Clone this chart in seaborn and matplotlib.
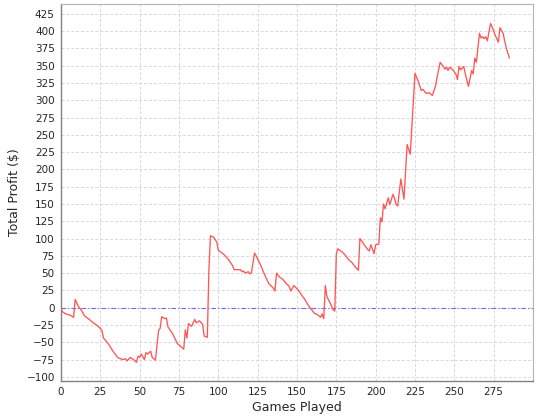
import matplotlib
matplotlib.use("Agg")
import matplotlib.pyplot as plt
import pandas as pd
import seaborn as sns

# Cumulative profit at each turning point.
games = [
    0, 1, 3, 6, 8, 9, 11, 13, 15, 18, 20, 23, 25, 26, 27, 30, 33, 36, 39, 41,
    42, 44, 46, 48, 49, 50, 51, 53, 54, 55, 57, 58, 60, 62, 63, 64, 66, 67, 68, 71,
    74, 77, 78, 79, 80, 81, 83, 85, 86, 88, 90, 91, 93, 94, 95, 97, 99, 100, 103, 106,
    109, 110, 114, 115, 116, 117, 119, 120, 121, 123, 124, 127, 129, 132, 135, 136, 137, 139, 141, 143,
    145, 146, 148, 151, 153, 155, 157, 159, 161, 163, 165, 166, 167, 168, 169, 171, 173, 174, 175, 176,
    179, 181, 183, 185, 187, 189, 190, 191, 193, 195, 196, 197, 199, 200, 202, 203, 204, 205, 206, 208,
    209, 211, 212, 213, 214, 216, 218, 220, 222, 225, 227, 229, 230, 232, 234, 236, 238, 239, 241, 243,
    244, 245, 246, 247, 249, 251, 252, 253, 254, 256, 257, 259, 261, 262, 263, 264, 266, 267, 268, 269,
    270, 271, 273, 274, 276, 278, 279, 281, 282, 283, 285,
]
profit = [
    -2, -6, -9, -11, -14, 12, 2, -4, -12, -17, -21, -26, -30, -33, -44, -52, -63, -72, -75, -74,
    -77, -72, -75, -79, -70, -72, -67, -75, -65, -67, -63, -72, -76, -33, -30, -13, -16, -15, -28, -38,
    -52, -58, -60, -32, -44, -23, -27, -17, -22, -19, -24, -41, -43, 55, 104, 102, 95, 83, 78, 71,
    61, 55, 55, 52, 53, 50, 52, 49, 50, 79, 75, 61, 50, 35, 28, 24, 50, 44, 41, 35,
    31, 24, 32, 25, 18, 12, 4, -2, -8, -10, -14, -9, -16, 32, 16, 7, -3, -5, 78, 85,
    80, 75, 69, 65, 59, 54, 100, 97, 90, 84, 82, 91, 78, 91, 92, 130, 124, 150, 143, 159,
    149, 164, 158, 149, 147, 186, 157, 236, 222, 339, 328, 314, 316, 310, 311, 307, 320, 333, 355, 349,
    345, 348, 343, 348, 344, 338, 330, 349, 344, 349, 338, 320, 343, 338, 361, 355, 397, 390, 392, 389,
    392, 386, 411, 406, 394, 384, 405, 397, 386, 376, 361,
]

x_ticks = list(range(0, 300, 25))
y_ticks = list(range(-100, 426, 25))

df = pd.DataFrame({"games": games, "profit": profit})

sns.set_style("white")
plt.rcParams["font.family"] = ["DejaVu Sans"]

fig, ax = plt.subplots(figsize=(5.4, 4.2), dpi=100)
fig.subplots_adjust(left=0.113, right=0.987, top=0.990, bottom=0.093)

ax.grid(True, color="#d8d8d8", linestyle=(0, (3, 2)), linewidth=0.7)
ax.set_axisbelow(True)
# zero reference line
ax.axhline(0, color="#4a4ad8", linestyle=(0, (4, 2, 1, 2)), linewidth=0.8, alpha=0.8)

sns.lineplot(data=df, x="games", y="profit", color="#ff5555", linewidth=0.95, ax=ax)

ax.set_xlim(0, 300)
ax.set_ylim(-106, 439)
ax.set_xticks(x_ticks)
ax.set_yticks(y_ticks)
ax.tick_params(axis="both", labelsize=7.5, length=2.5, width=0.8, color="#808080", pad=2, direction="out")
ax.set_xlabel("Games Played", fontsize=9, labelpad=3)
ax.set_ylabel("Total Profit ($)", fontsize=9, labelpad=4)

for side in ("left", "bottom"):
    ax.spines[side].set_color("#808080")
    ax.spines[side].set_linewidth(1.0)
for side in ("top", "right"):
    ax.spines[side].set_color("#b4b4b4")
    ax.spines[side].set_linewidth(0.8)

fig.savefig("out.png", dpi=100)
plt.close(fig)
